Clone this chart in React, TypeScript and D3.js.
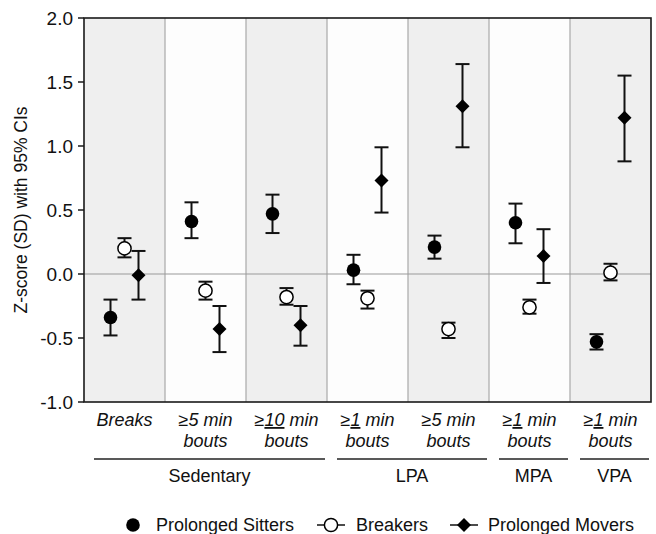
import React from 'react';
import * as d3 from 'd3';

// categories (x axis), two text lines each
const catLine1 = ["Breaks", "≥5 min", "≥10 min", "≥1 min", "≥5 min", "≥1 min", "≥1 min"];
const catLine2 = ["", "bouts", "bouts", "bouts", "bouts", "bouts", "bouts"];
const catUnderlined = [false, false, true, true, false, true, true];

const groupNames = ["Sedentary", "LPA", "MPA", "VPA"];
const groupSizes = [3, 2, 1, 1];

const seriesNames = ["Prolonged Sitters", "Breakers", "Prolonged Movers"];

const sittersMean = [-0.34, 0.41, 0.47, 0.03, 0.21, 0.40, -0.53];
const sittersLow = [-0.48, 0.28, 0.32, -0.08, 0.12, 0.24, -0.59];
const sittersHigh = [-0.20, 0.56, 0.62, 0.15, 0.30, 0.55, -0.47];

const breakersMean = [0.20, -0.13, -0.18, -0.19, -0.43, -0.26, 0.01];
const breakersLow = [0.13, -0.20, -0.24, -0.27, -0.50, -0.31, -0.05];
const breakersHigh = [0.28, -0.06, -0.11, -0.13, -0.38, -0.20, 0.08];

const moversMean = [-0.01, -0.43, -0.40, 0.73, 1.31, 0.14, 1.22];
const moversLow = [-0.20, -0.61, -0.56, 0.48, 0.99, -0.07, 0.88];
const moversHigh = [0.18, -0.25, -0.25, 0.99, 1.64, 0.35, 1.55];

const yTicks = [-1.0, -0.5, 0.0, 0.5, 1.0, 1.5, 2.0];

const W = 656, H = 534;
const left = 84, right = 651, top = 18, bottom = 402;
const font = '"Liberation Sans", Arial, sans-serif';

const Marker = ({kind, x, y}: {kind: string, x: number, y: number}) => {
  if (kind === "Prolonged Sitters") return <circle cx={x} cy={y} r={6.8} fill="#000" />;
  if (kind === "Breakers") return <circle cx={x} cy={y} r={6.6} fill="#fff" stroke="#000" strokeWidth={1.5} />;
  const s = 7;
  return <path d={`M${x},${y - s}L${x + s},${y}L${x},${y + s}L${x - s},${y}Z`} fill="#000" />;
};

const App = () => {
  const ids = catLine1.map((_, i) => "c" + i);
  const x = d3.scaleBand().domain(ids).range([left, right]).padding(0);
  const y = d3.scaleLinear().domain([-1, 2]).range([bottom, top]);
  const off = d3.scalePoint().domain(seriesNames).range([-14, 14]);

  const series = [
    {name: seriesNames[0], mean: sittersMean, lo: sittersLow, hi: sittersHigh},
    {name: seriesNames[1], mean: breakersMean, lo: breakersLow, hi: breakersHigh},
    {name: seriesNames[2], mean: moversMean, lo: moversLow, hi: moversHigh},
  ];

  // group spans
  let start = 0;
  const groups = groupNames.map((g, i) => {
    const x0 = x(ids[start])!;
    const x1 = x(ids[start + groupSizes[i] - 1])! + x.bandwidth();
    start += groupSizes[i];
    return {name: g, x0: x0 + 10, x1: x1 - 2};
  });

  const cap = 7;

  return (
    <svg width={W} height={H} style={{position: 'absolute', left: 0, top: 0}} fontFamily={font}>
      <rect x={0} y={0} width={W} height={H} fill="#fff" />
      {ids.map((id, i) => (
        <rect key={id} x={x(id)} y={top} width={x.bandwidth()} height={bottom - top}
              fill={i % 2 === 0 ? "#efefef" : "#fdfdfd"} />
      ))}
      {ids.slice(1).map(id => (
        <line key={id} x1={x(id)} x2={x(id)} y1={top} y2={bottom} stroke="#a8a8a8" strokeWidth={1.2} />
      ))}
      <line x1={left} x2={right} y1={y(0)} y2={y(0)} stroke="#9a9a9a" strokeWidth={1.2} />

      {series.map(s => (
        <g key={s.name}>
          {s.mean.map((m, i) => {
            const cx = x(ids[i])! + x.bandwidth() / 2 + off(s.name)!;
            return (
              <g key={i}>
                <line x1={cx} x2={cx} y1={y(s.lo[i])} y2={y(s.hi[i])} stroke="#111" strokeWidth={2} />
                <line x1={cx - cap} x2={cx + cap} y1={y(s.lo[i])} y2={y(s.lo[i])} stroke="#111" strokeWidth={2} />
                <line x1={cx - cap} x2={cx + cap} y1={y(s.hi[i])} y2={y(s.hi[i])} stroke="#111" strokeWidth={2} />
                <Marker kind={s.name} x={cx} y={y(m)} />
              </g>
            );
          })}
        </g>
      ))}

      <rect x={left} y={top} width={right - left} height={bottom - top} fill="none" stroke="#1a1a1a" strokeWidth={1.6} />

      {yTicks.map(t => (
        <g key={t}>
          <line x1={left - 6} x2={left} y1={y(t)} y2={y(t)} stroke="#1a1a1a" strokeWidth={1.5} />
          <text x={left - 11} y={y(t)} dy="0.36em" textAnchor="end" fontSize={19} fill="#111">{t.toFixed(1)}</text>
        </g>
      ))}
      <text transform={`translate(21,${(top + bottom) / 2}) rotate(-90)`} textAnchor="middle" dy="0.35em"
            fontSize={17.5} fill="#111">Z-score (SD) with 95% CIs</text>

      {ids.map((id, i) => {
        const cx = x(id)! + x.bandwidth() / 2;
        const parts = catLine1[i].split(" ");
        const lead = parts[0];
        return (
          <g key={id} fontStyle="italic" fontSize={18} fill="#111">
            <text x={cx} y={426} textAnchor="middle">
              {catUnderlined[i]
                ? <><tspan>≥</tspan><tspan textDecoration="underline">{lead.slice(1)}</tspan>{" " + parts.slice(1).join(" ")}</>
                : catLine1[i]}
            </text>
            {catLine2[i] && <text x={cx} y={447} textAnchor="middle">{catLine2[i]}</text>}
          </g>
        );
      })}

      {groups.map(g => (
        <g key={g.name}>
          <line x1={g.x0} x2={g.x1} y1={459} y2={459} stroke="#222" strokeWidth={1.4} />
          <text x={(g.x0 + g.x1) / 2} y={482} textAnchor="middle" fontSize={18} fill="#111">{g.name}</text>
        </g>
      ))}

      {/* legend */}
      <g fontSize={18} fill="#111">
        <Marker kind={seriesNames[0]} x={133} y={525} />
        <text x={156} y={531}>{seriesNames[0]}</text>
        <line x1={317} x2={345} y1={525} y2={525} stroke="#111" strokeWidth={1.5} />
        <Marker kind={seriesNames[1]} x={331} y={525} />
        <text x={356} y={531}>{seriesNames[1]}</text>
        <line x1={450} x2={478} y1={525} y2={525} stroke="#111" strokeWidth={1.5} />
        <Marker kind={seriesNames[2]} x={464} y={525} />
        <text x={488} y={531}>{seriesNames[2]}</text>
      </g>
    </svg>
  );
};

export default App;
